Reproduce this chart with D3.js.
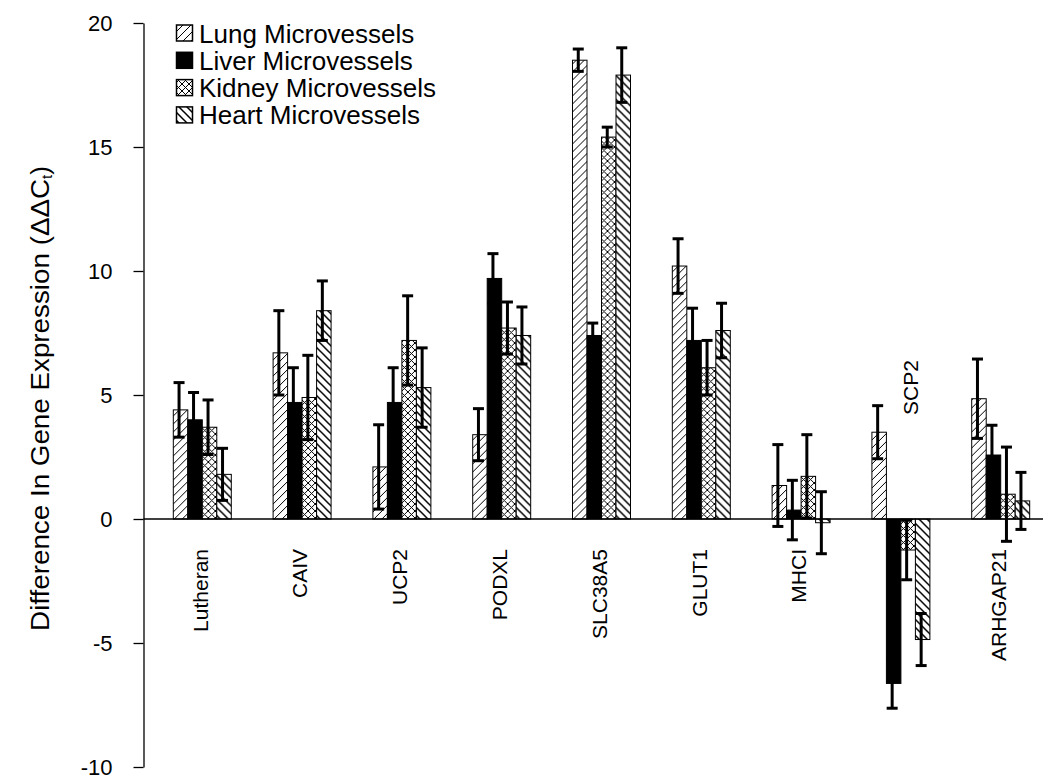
<!DOCTYPE html>
<html>
<head>
<meta charset="utf-8">
<script src="https://cdn.jsdelivr.net/npm/d3@7"></script>
<style>
  html, body { margin: 0; padding: 0; background: #fff; }
  svg { display: block; font-family: "Liberation Sans", Arial, sans-serif; }
</style>
</head>
<body>
<svg id="chart" width="1050" height="780"></svg>
<script>
// ---- data ----
const categories = ["Lutheran", "CAIV", "UCP2", "PODXL", "SLC38A5", "GLUT1", "MHCI", "SCP2", "ARHGAP21"];
const seriesNames = ["Lung Microvessels", "Liver Microvessels", "Kidney Microvessels", "Heart Microvessels"];
const lungValues   = [4.4, 6.7, 2.1, 3.4, 18.5, 10.2, 1.35, 3.5, 4.85];
const lungErrors   = [1.1, 1.7, 1.7, 1.05, 0.45, 1.1, 1.65, 1.07, 1.6];
const liverValues  = [4.0, 4.7, 4.7, 9.7, 7.4, 7.2, 0.36, -6.63, 2.58];
const liverErrors  = [1.1, 1.4, 1.4, 1.0, 0.5, 1.3, 1.2, 1.0, 1.2];
const kidneyValues = [3.7, 4.9, 7.2, 7.7, 15.4, 6.1, 1.72, -1.25, 1.0];
const kidneyErrors = [1.1, 1.7, 1.8, 1.05, 0.4, 1.1, 1.68, 1.2, 1.9];
const heartValues  = [1.8, 8.4, 5.3, 7.4, 17.9, 7.6, -0.15, -4.86, 0.73];
const heartErrors  = [1.05, 1.2, 1.6, 1.15, 1.1, 1.1, 1.25, 1.05, 1.15];
const yTicks = [-10, -5, 0, 5, 10, 15, 20];
const yTickLabels = ["-10", "-5", "0", "5", "10", "15", "20"];
const yLabel = "Difference In Gene Expression (ΔΔC";
const yLabelSub = "t";

const seriesValues = [lungValues, liverValues, kidneyValues, heartValues];
const seriesErrors = [lungErrors, liverErrors, kidneyErrors, heartErrors];
const fills = ["url(#pLung)", "#000", "url(#pKidney)", "url(#pHeart)"];

const svg = d3.select("#chart");

// ---- patterns ----
const defs = svg.append("defs");
const pl = defs.append("pattern").attr("id", "pLung").attr("patternUnits", "userSpaceOnUse")
  .attr("width", 8).attr("height", 8);
pl.append("rect").attr("width", 8).attr("height", 8).attr("fill", "#fff");
pl.append("path").attr("d", "M-2,2 L2,-2 M0,8 L8,0 M6,10 L10,6").attr("stroke", "#000").attr("stroke-width", 1);

const ph = defs.append("pattern").attr("id", "pHeart").attr("patternUnits", "userSpaceOnUse")
  .attr("width", 8).attr("height", 8);
ph.append("rect").attr("width", 8).attr("height", 8).attr("fill", "#fff");
ph.append("path").attr("d", "M-2,6 L2,10 M0,0 L8,8 M6,-2 L10,2").attr("stroke", "#000").attr("stroke-width", 1.5);

const pk = defs.append("pattern").attr("id", "pKidney").attr("patternUnits", "userSpaceOnUse")
  .attr("width", 7).attr("height", 7);
pk.append("rect").attr("width", 7).attr("height", 7).attr("fill", "#fff");
pk.append("path").attr("d", "M0,0 L7,7 M-1,6 L1,8 M6,-1 L8,1 M0,7 L7,0 M-1,1 L1,-1 M6,8 L8,6")
  .attr("stroke", "#000").attr("stroke-width", 1);

// ---- scales ----
const x0 = d3.scaleBand().domain(categories)
  .range([144, 1059]).paddingInner(0.419).paddingOuter(0.2936);
const x1 = d3.scaleBand().domain(d3.range(seriesNames.length)).range([0, x0.bandwidth()]);
const y = d3.scaleLinear().domain([-10, 20]).range([767, 23]);

// ---- y axis ----
const yAxis = d3.axisLeft(y).tickValues(yTicks).tickSize(10).tickSizeOuter(0).tickPadding(21)
  .tickFormat((d, i) => yTickLabels[i]);
const gy = svg.append("g").attr("transform", "translate(143.5,0)").call(yAxis);
gy.selectAll("text").attr("font-size", 22).attr("fill", "#000")
  .attr("font-family", "'Liberation Sans', Arial, sans-serif");
gy.selectAll("line, path").attr("stroke", "#000").attr("stroke-width", 1.3);

// y label
const yl = svg.append("text")
  .attr("transform", `translate(49,${(165 + 632) / 2}) rotate(-90)`)
  .attr("text-anchor", "middle")
  .attr("font-size", 26).attr("fill", "#000");
yl.append("tspan").text(yLabel).attr("textLength", 452).attr("lengthAdjust", "spacingAndGlyphs");
yl.append("tspan").text(yLabelSub).attr("font-size", 15).attr("dy", 3);
yl.append("tspan").text(")").attr("dy", -3);

// ---- bars ----
const groups = svg.append("g").selectAll("g").data(categories).join("g")
  .attr("transform", d => `translate(${x0(d)},0)`);

groups.each(function(cat, ci) {
  const g = d3.select(this);
  seriesNames.forEach((s, si) => {
    const v = seriesValues[si][ci];
    g.append("rect")
      .attr("x", x1(si))
      .attr("width", x1.bandwidth())
      .attr("y", y(Math.max(0, v)))
      .attr("height", Math.abs(y(v) - y(0)))
      .attr("fill", fills[si])
      .attr("stroke", "#000").attr("stroke-width", 1);
  });
  seriesNames.forEach((s, si) => {
    const v = seriesValues[si][ci];
    const e = seriesErrors[si][ci];
    const cx = x1(si) + x1.bandwidth() / 2 - 1.5;
    const capW = 5.5;
    g.append("line").attr("x1", cx).attr("x2", cx).attr("y1", y(v + e)).attr("y2", y(v - e))
      .attr("stroke", "#000").attr("stroke-width", 3);
    [v + e, v - e].forEach(t => {
      g.append("line").attr("x1", cx - capW).attr("x2", cx + capW).attr("y1", y(t)).attr("y2", y(t))
        .attr("stroke", "#000").attr("stroke-width", 3);
    });
  });
});

// zero baseline
svg.append("line").attr("x1", 143.5).attr("x2", 1043).attr("y1", y(0)).attr("y2", y(0))
  .attr("stroke", "#000").attr("stroke-width", 1.3);

// ---- category labels ----
svg.append("g").selectAll("text").data(categories).join("text")
  .attr("transform", d => {
    const cx = x0(d) + x0.bandwidth() / 2;
    if (d === "SCP2") return `translate(${cx + 10},415) rotate(-90)`;
    return `translate(${cx - 2},549) rotate(-90)`;
  })
  .attr("text-anchor", d => d === "SCP2" ? "start" : "end")
  .attr("dy", "0.35em")
  .attr("font-size", 21).attr("fill", "#000")
  .text(d => d);

// ---- legend ----
const legend = svg.append("g");
seriesNames.forEach((s, i) => {
  const ly = 25 + i * 27.3;
  legend.append("rect").attr("x", 176.5).attr("y", ly).attr("width", 16).attr("height", 16)
    .attr("fill", fills[i]).attr("stroke", "#000").attr("stroke-width", 1.5);
  legend.append("text").attr("x", 199).attr("y", ly + 17.5)
    .attr("font-size", 26).attr("fill", "#000").text(s);
});
</script>
</body>
</html>
